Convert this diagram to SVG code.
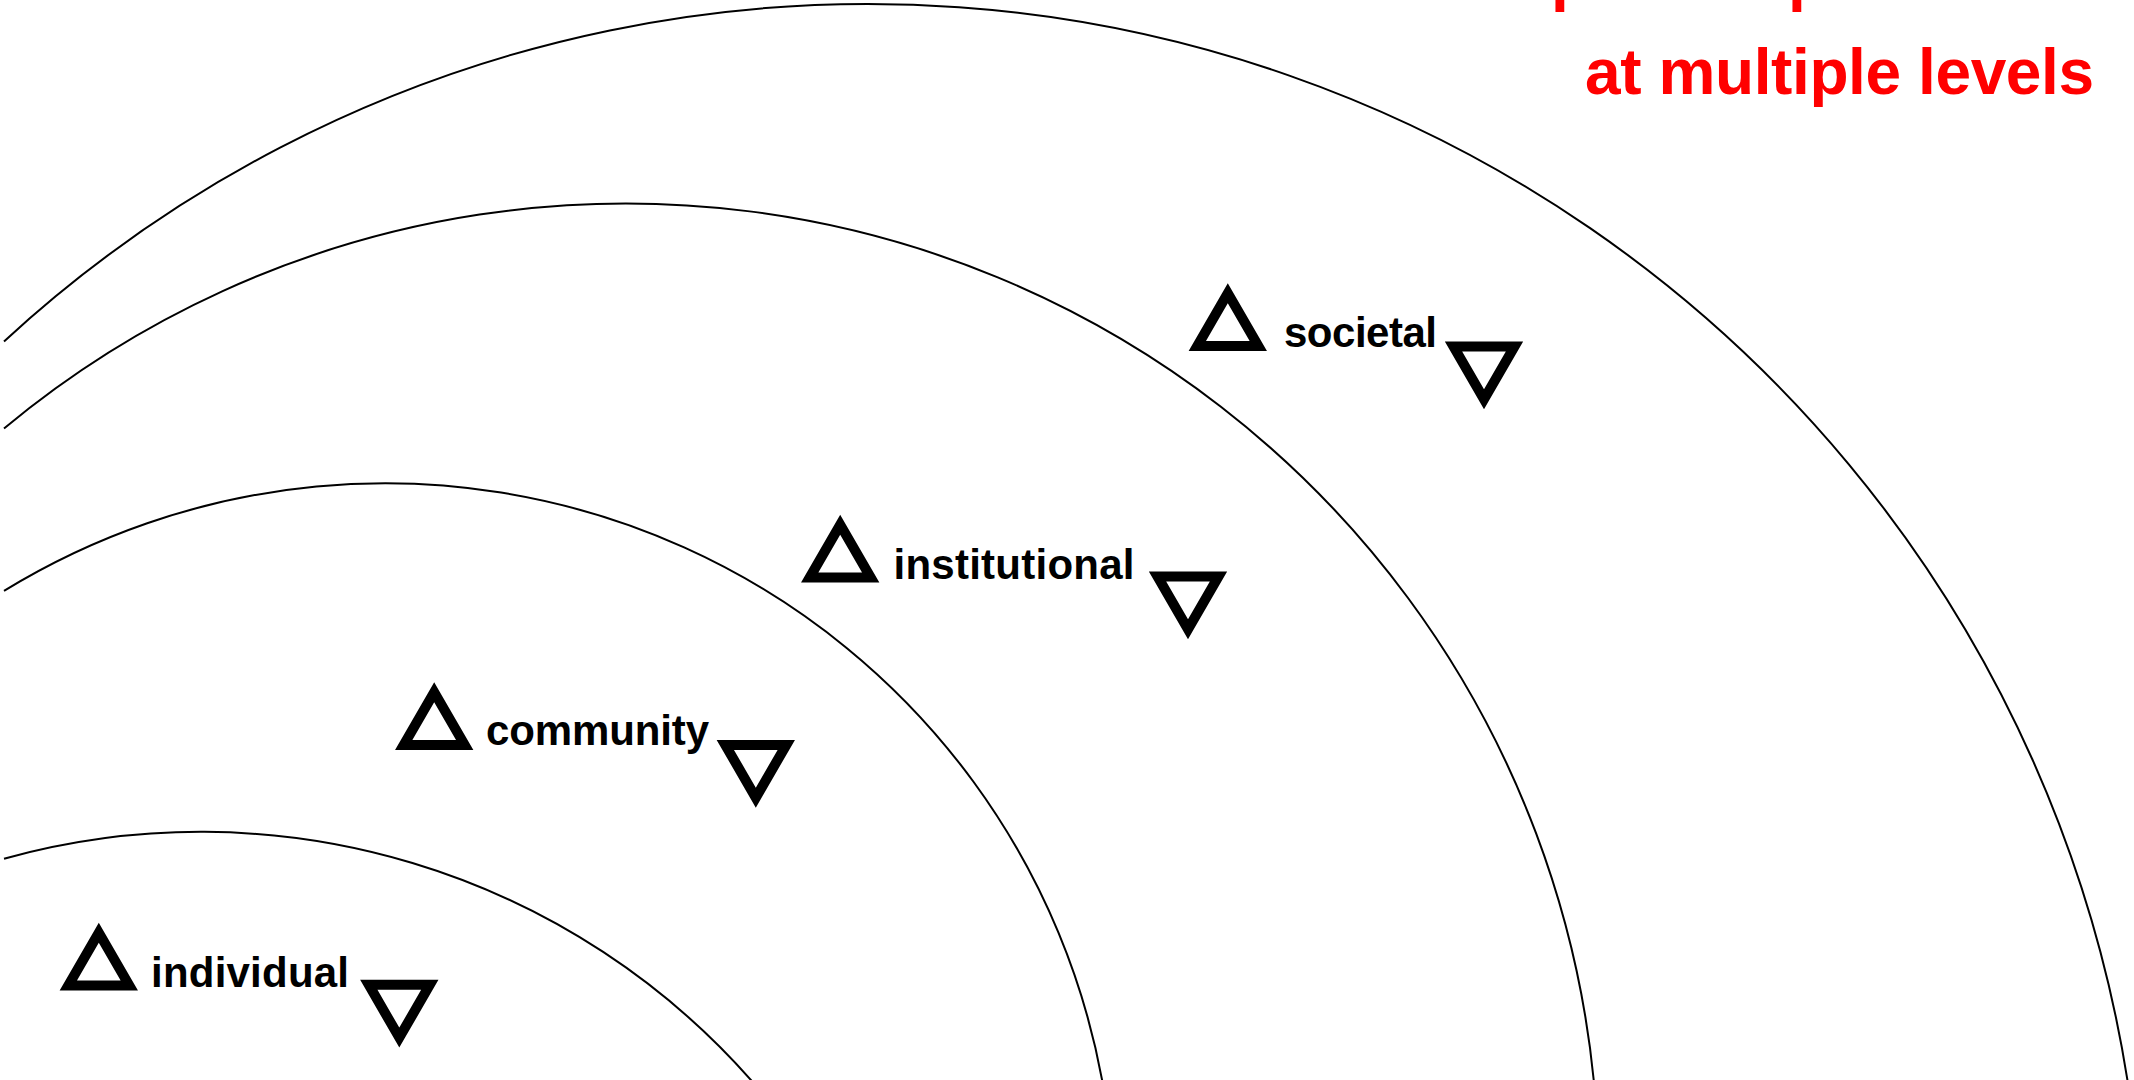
<svg xmlns="http://www.w3.org/2000/svg" xmlns:xlink="http://www.w3.org/1999/xlink" width="2134" height="1080" viewBox="0 0 2134 1080">
<style>
.ring{fill:none;stroke:#000;stroke-width:2}
.tri{fill:none;stroke:#000;stroke-width:10;stroke-linejoin:miter;stroke-miterlimit:10}
.lbl{font-family:"Liberation Sans",Arial,sans-serif;font-weight:bold;font-size:42px;fill:#000}
.title{font-family:"Liberation Sans",Arial,sans-serif;font-weight:bold;font-size:64px;fill:#ff0000}
</style>
<defs>
<path id="up" class="tri" d="M0,-35.2 L30.5,17.6 L-30.5,17.6 Z"/>
<path id="down" class="tri" d="M0,35.2 L30.5,-17.6 L-30.5,-17.6 Z"/>
</defs>
<rect width="2134" height="1080" fill="#fff"/>
<g id="rings">
<path class="ring" d="M4,341.4 A1275,1275 0 0 1 2128.2,1085"/>
<path class="ring" d="M4,428.4 A972.5,972.5 0 0 1 1594.2,1085"/>
<path class="ring" d="M4,590.9 A729,729 0 0 1 1103,1085"/>
<path class="ring" d="M4,858.8 A733.5,733.5 0 0 1 755.3,1085"/>
</g>
<g id="title">
<text class="title" x="1551 1788" y="-1">pp</text>
<text class="title" x="1585" y="94" textLength="509">at multiple levels</text>
</g>
<g id="individual">
<use xlink:href="#up" x="98.8" y="968"/>
<text class="lbl" x="151" y="986.7" textLength="198">individual</text>
<use xlink:href="#down" x="399.3" y="1002.4"/>
</g>
<g id="community">
<use xlink:href="#up" x="434.2" y="727.5"/>
<text class="lbl" x="486" y="745" textLength="223">community</text>
<use xlink:href="#down" x="755.8" y="762.5"/>
</g>
<g id="institutional">
<use xlink:href="#up" x="840.2" y="560"/>
<text class="lbl" x="893.5" y="579" textLength="241">institutional</text>
<use xlink:href="#down" x="1188" y="594"/>
</g>
<g id="societal">
<use xlink:href="#up" x="1227.8" y="328.5"/>
<text class="lbl" x="1284" y="347.3" textLength="153">societal</text>
<use xlink:href="#down" x="1484" y="364"/>
</g>
</svg>
